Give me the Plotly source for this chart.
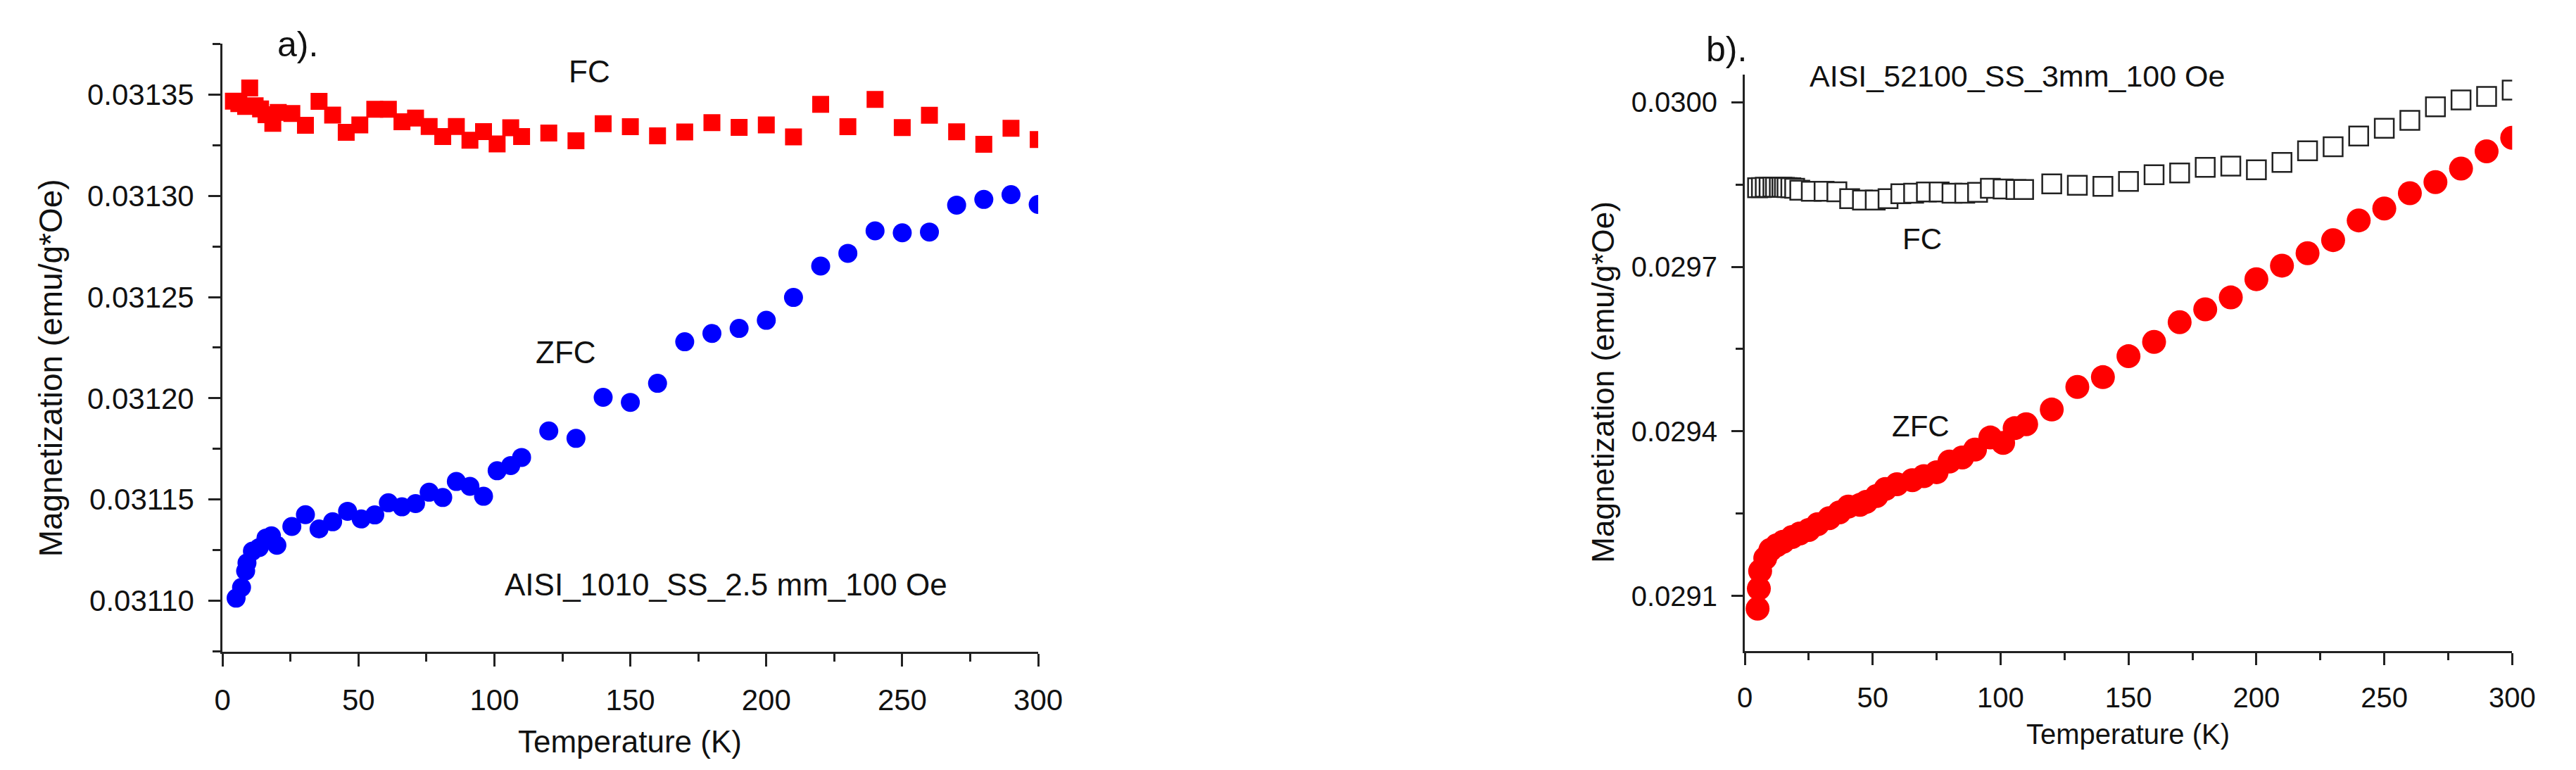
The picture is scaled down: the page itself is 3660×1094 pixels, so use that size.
import plotly.graph_objects as go

# ---- panel a) AISI 1010 ----
t_fc_a = [4, 6, 8.5, 10, 12, 14, 16, 18.5, 20.5, 25.5, 30.5, 35.5, 40.5, 45.5, 50.5,
          56, 61, 66, 71, 76, 81, 86, 91, 96, 101, 106, 110,
          120, 130, 140, 150, 160, 170, 180, 190, 200, 210, 220, 230, 240, 250,
          260, 270, 280, 290, 300]
m_fc_a = [0.0313467, 0.0313455, 0.0313441, 0.0313532, 0.0313445, 0.0313429, 0.0313400,
          0.0313358, 0.0313412, 0.0313406, 0.0313348, 0.0313466, 0.0313399, 0.0313313,
          0.0313350, 0.0313427, 0.0313427, 0.0313366, 0.0313384, 0.0313342, 0.0313293,
          0.0313342, 0.0313274, 0.0313317, 0.0313256, 0.0313336, 0.0313293,
          0.0313310, 0.0313272, 0.0313356, 0.0313341, 0.0313296, 0.0313315, 0.0313361,
          0.0313338, 0.0313350, 0.0313291, 0.0313452, 0.0313341, 0.0313476, 0.0313337,
          0.0313398, 0.0313316, 0.0313254, 0.0313333, 0.0313278]

t_zfc_a = [5, 7, 8.5, 9, 11, 13.5, 16, 18, 20, 25.5, 30.5, 35.5, 40.5, 46, 51,
           56, 61, 66, 71, 76, 81, 86, 91, 96, 101, 106, 110,
           120, 130, 140, 150, 160, 170, 180, 190, 200, 210, 220, 230, 240, 250,
           260, 270, 280, 290, 300]
m_zfc_a = [0.0311013, 0.0311066, 0.0311147, 0.0311187, 0.0311245, 0.0311263, 0.0311310,
           0.0311321, 0.0311274, 0.0311367, 0.0311425, 0.0311355, 0.0311390, 0.0311442,
           0.0311404, 0.0311424, 0.0311484, 0.0311464, 0.0311480, 0.0311536, 0.0311510,
           0.0311589, 0.0311565, 0.0311516, 0.0311642, 0.0311668, 0.0311708,
           0.0311839, 0.0311802, 0.0312005, 0.0311980, 0.0312074, 0.0312279, 0.0312320,
           0.0312345, 0.0312385, 0.0312498, 0.0312653, 0.0312716, 0.0312827, 0.0312817,
           0.0312821, 0.0312954, 0.0312982, 0.0313006, 0.0312957]

# ---- panel b) AISI 52100 ----
t_fc_b = [5, 6.5, 8, 9.5, 11, 12, 13.5, 14.5, 15.5, 16.5, 18, 19.5,
          21.5, 26, 31, 36, 41, 46, 51, 56, 61, 66, 71, 76, 81, 86, 91, 96, 101, 106, 109,
          120, 130, 140, 150, 160, 170, 180, 190, 200, 210, 220, 230, 240, 250,
          260, 270, 280, 290, 300]
m_fc_b = [0.0298440, 0.0298445, 0.0298450, 0.0298448, 0.0298452, 0.0298450, 0.0298447,
          0.0298450, 0.0298446, 0.0298444, 0.0298440, 0.0298430,
          0.0298395, 0.0298376, 0.0298376, 0.0298367, 0.0298240, 0.0298215, 0.0298215,
          0.0298241, 0.0298331, 0.0298340, 0.0298363, 0.0298363, 0.0298340, 0.0298340,
          0.0298358, 0.0298430, 0.0298417, 0.0298408, 0.0298408,
          0.0298510, 0.0298484, 0.0298466, 0.0298557, 0.0298677, 0.0298709, 0.0298812,
          0.0298835, 0.0298767, 0.0298903, 0.0299114, 0.0299187, 0.0299384, 0.0299524,
          0.0299668, 0.0299915, 0.0300041, 0.0300104, 0.0300221]

t_zfc_b = [5, 5.5, 6, 8, 10, 12.5, 15, 18.5, 21.5, 25, 28.5, 33, 37, 40.5, 45, 47.5,
           51.5, 55, 59.5, 65.5, 70, 75, 80, 85, 90, 96, 101, 105.5, 110,
           120, 130, 140, 150, 160, 170, 180, 190, 200, 210, 220, 230, 240, 250,
           260, 270, 280, 290, 300]
m_zfc_b = [0.0290770, 0.0291134, 0.0291455, 0.0291690, 0.0291840, 0.0291924, 0.0291988,
           0.0292074, 0.0292139, 0.0292203, 0.0292309, 0.0292417, 0.0292523, 0.0292630,
           0.0292660, 0.0292716, 0.0292822, 0.0292951, 0.0293037, 0.0293111, 0.0293183,
           0.0293256, 0.0293451, 0.0293524, 0.0293669, 0.0293888, 0.0293791, 0.0294058,
           0.0294131, 0.0294398, 0.0294810, 0.0294988, 0.0295370, 0.0295632, 0.0295991,
           0.0296225, 0.0296441, 0.0296774, 0.0297021, 0.0297247, 0.0297486, 0.0297845,
           0.0298062, 0.0298340, 0.0298543, 0.0298790, 0.0299105, 0.0299352]

W, H = 3660, 1094
FONT = "Liberation Sans, Arial, sans-serif"

fig = go.Figure()

# panel a traces
fig.add_trace(go.Scatter(x=t_fc_a, y=m_fc_a, mode="markers", name="FC",
                         marker=dict(symbol="square", size=24, color="#ff0000"),
                         xaxis="x", yaxis="y"))
fig.add_trace(go.Scatter(x=t_zfc_a, y=m_zfc_a, mode="markers", name="ZFC",
                         marker=dict(symbol="circle", size=27, color="#0000ff"),
                         xaxis="x", yaxis="y"))

# panel b traces
fig.add_trace(go.Scatter(x=t_fc_b, y=m_fc_b, mode="markers", name="FC",
                         marker=dict(symbol="square", size=27, color="white",
                                     line=dict(color="#222222", width=2.5)),
                         xaxis="x2", yaxis="y2"))
fig.add_trace(go.Scatter(x=t_zfc_b, y=m_zfc_b, mode="markers", name="ZFC",
                         marker=dict(symbol="circle", size=34, color="#ff0000"),
                         xaxis="x2", yaxis="y2"))


def axis_style(size, ticklen, minorlen):
    return dict(showline=True, linecolor="#222222", linewidth=3, showgrid=False,
                zeroline=False, ticks="outside", ticklen=ticklen, tickwidth=3,
                tickcolor="#222222", ticklabelstandoff=12,
                tickfont=dict(family=FONT, size=size, color="#111111"),
                minor=dict(ticks="outside", ticklen=minorlen, tickwidth=3,
                           tickcolor="#222222"))


xa = axis_style(42, 18, 11)
xa.update(domain=[300 / W, 1474 / W], range=[0, 300], dtick=50, tick0=0, anchor="y")
xa["minor"].update(dtick=25, tick0=0)
ya = axis_style(42, 17, 11)
ya.update(domain=[1 - 917.5 / H, 1 - 54.4 / H], range=[0.031075, 0.031375],
          dtick=0.00005, tick0=0.0311, tickformat=".5f", anchor="x")
ya["minor"].update(dtick=0.000025, tick0=0.031075)

xb = axis_style(40, 17, 10)
xb.update(domain=[2491 / W, 3595.5 / W], range=[0, 300], dtick=50, tick0=0, anchor="y2")
xb["minor"].update(dtick=25, tick0=0)
yb = axis_style(40, 16, 10)
yb.update(domain=[1 - 916.7 / H, 1 - 98.2 / H], range=[0.0290, 0.03005],
          dtick=0.0003, tick0=0.0291, tickformat=".4f", anchor="x2")
yb["minor"].update(dtick=0.00015, tick0=0.0291)

fig.update_layout(xaxis=xa, yaxis=ya, xaxis2=xb, yaxis2=yb)


def label(text, px, py, size, xanchor="center", angle=0):
    fig.add_annotation(text=text, x=px / W, y=1 - py / H, xref="paper", yref="paper",
                       xanchor=xanchor, yanchor="middle", showarrow=False,
                       textangle=angle,
                       font=dict(family=FONT, size=size, color="#111111"))


# panel a labels
label("a).", 377, 55, 50, xanchor="left")
label("FC", 828, 94, 44)
label("ZFC", 794, 493, 44)
label("AISI_1010_SS_2.5 mm_100 Oe", 704, 822, 44, xanchor="left")
label("Temperature (K)", 886, 1045, 44)
label("Magnetization (emu/g*Oe)", 53, 515, 46, angle=-90)

# panel b labels
label("b).", 2433, 62, 50, xanchor="left")
label("AISI_52100_SS_3mm_100 Oe", 2582, 100, 43, xanchor="left")
label("FC", 2746, 331, 42)
label("ZFC", 2744, 597, 42)
label("Temperature (K)", 3043, 1035, 40)
label("Magnetization (emu/g*Oe)", 2286, 535, 44, angle=-90)

fig.update_layout(width=W, height=H, margin=dict(l=0, r=0, t=0, b=0),
                  paper_bgcolor="white", plot_bgcolor="white", showlegend=False)

fig.write_html("out.html")
